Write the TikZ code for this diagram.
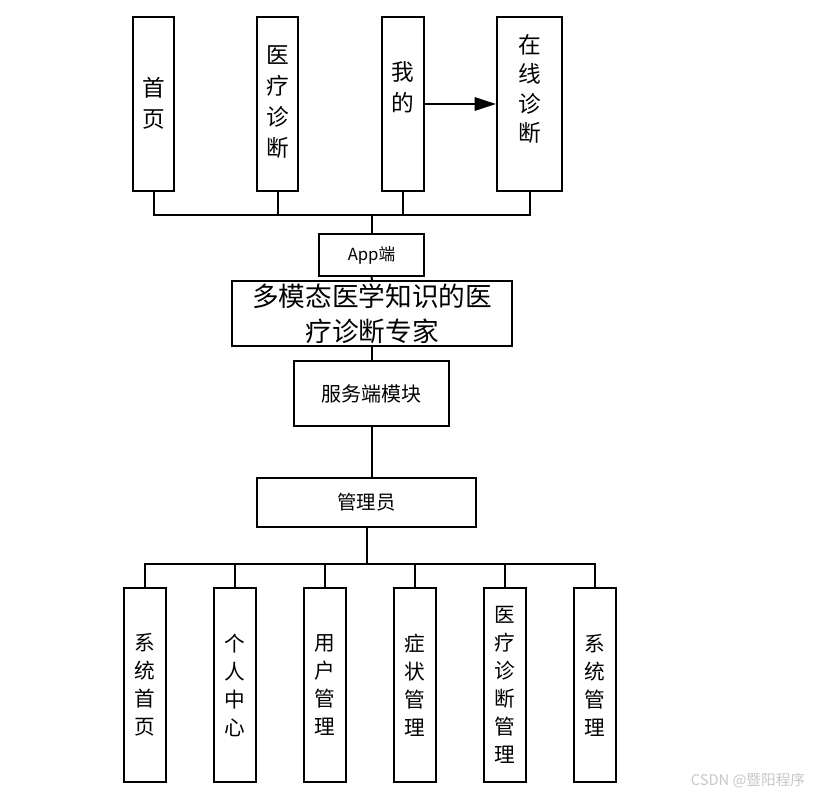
\documentclass[tikz,border=0pt]{standalone}
\usepackage{fontspec}
\setmainfont{Noto Sans CJK SC}
\usetikzlibrary{arrows.meta}
\begin{document}
\begin{tikzpicture}[x=0.75pt,y=-0.75pt,
  box/.style={draw, line width=1.5pt, inner sep=0pt, fill=white},
  topbox/.style={box, minimum height=130.5pt},
  botbox/.style={box, minimum width=31.5pt, minimum height=145.5pt, align=center, font=\fontsize{15.5}{21}\selectfont},
  toptext/.style={inner sep=0pt, align=center, font=\fontsize{17}{23.3}\selectfont},
  conn/.style={line width=1.5pt}]
\useasboundingbox (0,0) rectangle (815,797);
% top boxes
\node[topbox, minimum width=30.75pt] (b1) at (153.5,104) {};
\node[topbox, minimum width=30.75pt] (b2) at (277.5,104) {};
\node[topbox, minimum width=31.5pt] (b3) at (403,104) {};
\node[topbox, minimum width=48.75pt] (b4) at (529.5,104) {};
\node[toptext] (t1) at (153.5,103) {首\\页};
\node[toptext] (t2) at (277.5,102) {医\\疗\\诊\\断};
\node[toptext] (t3) at (403,87) {我\\的};
\node[toptext, font=\fontsize{17}{22}\selectfont] (t4) at (529.5,89) {在\\线\\诊\\断};
\draw[conn,-{Triangle[length=16pt,width=10pt]}] (b3.east) -- (b4.west);
% App
\node[box, minimum width=78.75pt, minimum height=31.5pt, font=\fontsize{12.5}{14}\selectfont] (app) at (371.5,255) {App端};
\coordinate (topbus) at (371.5,215);
\foreach \b in {b1,b2,b3,b4} \draw[conn] (\b.south) |- (topbus);
\draw[conn] (topbus) -- (app.north);
% expert
\node[box, minimum width=210pt, minimum height=48.75pt, align=center, font=\fontsize{20}{26}\selectfont] (big) at (372,313.5) {多模态医学知识的医\\疗诊断专家};
\draw[conn] (app.south) -- (big.north);
\node[box, minimum width=116.25pt, minimum height=48.75pt, font=\fontsize{15}{18}\selectfont] (srv) at (371.5,393.5) {服务端模块};
\draw[conn] (big.south) -- (big.south |- srv.north);
\node[box, minimum width=164.25pt, minimum height=36.75pt, font=\fontsize{14.5}{18}\selectfont] (adm) at (366.5,502.5) {管理员};
\draw[conn] (srv.south) -- (srv.south |- adm.north);
% bottom boxes
\node[botbox] (c1) at (144.5,685) {系\\统\\首\\页};
\node[botbox] (c2) at (234.5,685) {个\\人\\中\\心};
\node[botbox] (c3) at (324.5,685) {用\\户\\管\\理};
\node[botbox] (c4) at (414.5,685) {症\\状\\管\\理};
\node[botbox] (c5) at (504.5,685) {医\\疗\\诊\\断\\管\\理};
\node[botbox] (c6) at (594.5,685) {系\\统\\管\\理};
\coordinate (botbus) at (366.5,563.5);
\draw[conn] (adm.south) -- (botbus);
\foreach \c in {c1,c2,c3,c4,c5,c6} \draw[conn] (botbus) -| (\c.north);
% watermark
\node[inner sep=0pt, text=black!22, font=\fontsize{11}{13}\selectfont] (wm) at (748,781) {CSDN @暨阳程序};
\end{tikzpicture}
\end{document}
